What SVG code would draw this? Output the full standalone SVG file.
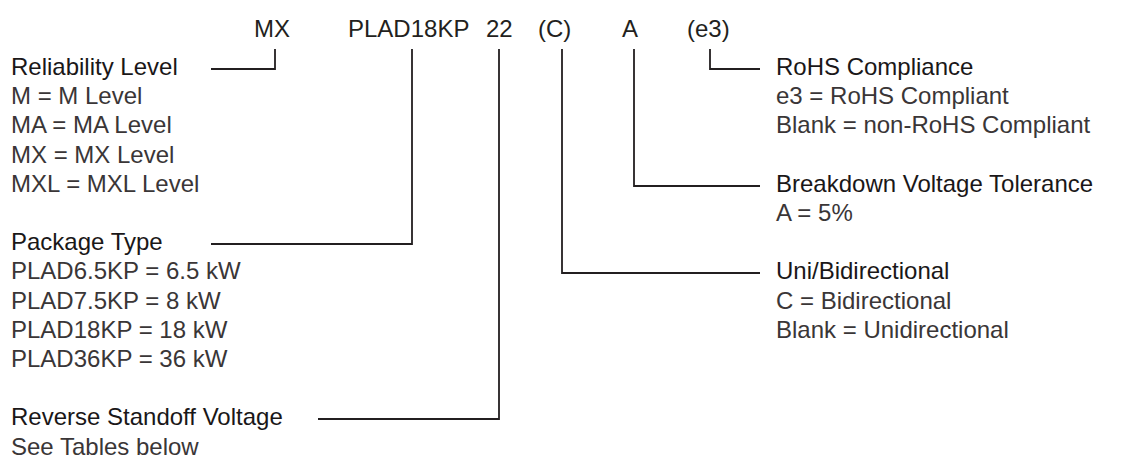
<svg xmlns="http://www.w3.org/2000/svg" width="1122" height="458" viewBox="0 0 1122 458">
<style>
text{font-family:"Liberation Sans",Arial,Helvetica,sans-serif;font-size:24px;fill:#231f20}
.h{fill:#1a1718}
.i{fill:#3a3637}
.c{fill:none;stroke:#231f20;stroke-width:1.8}
</style>
<rect width="1122" height="458" fill="#fff"/>
<g id="code">
<text x="254" y="37">MX</text>
<text x="348" y="37">PLAD18KP</text>
<text x="486" y="37">22</text>
<text x="538" y="37">(C)</text>
<text x="622" y="37">A</text>
<text x="687" y="37">(e3)</text>
</g>
<g id="reliability">
<text class="h" x="11" y="75">Reliability Level</text>
<text class="i" x="11" y="104">M = M Level</text>
<text class="i" x="11" y="133">MA = MA Level</text>
<text class="i" x="11" y="163">MX = MX Level</text>
<text class="i" x="11" y="192">MXL = MXL Level</text>
</g>
<g id="package">
<text class="h" x="11" y="250">Package Type</text>
<text class="i" x="11" y="279">PLAD6.5KP = 6.5 kW</text>
<text class="i" x="11" y="309">PLAD7.5KP = 8 kW</text>
<text class="i" x="11" y="338">PLAD18KP = 18 kW</text>
<text class="i" x="11" y="367">PLAD36KP = 36 kW</text>
</g>
<g id="reverse">
<text class="h" x="11" y="425">Reverse Standoff Voltage</text>
<text class="i" x="11" y="455">See Tables below</text>
</g>
<g id="rohs">
<text class="h" x="776" y="75">RoHS Compliance</text>
<text class="i" x="776" y="104">e3 = RoHS Compliant</text>
<text class="i" x="776" y="133">Blank = non-RoHS Compliant</text>
</g>
<g id="tolerance">
<text class="h" x="776" y="192">Breakdown Voltage Tolerance</text>
<text class="i" x="776" y="221">A = 5%</text>
</g>
<g id="direction">
<text class="h" x="776" y="279">Uni/Bidirectional</text>
<text class="i" x="776" y="309">C = Bidirectional</text>
<text class="i" x="776" y="338">Blank = Unidirectional</text>
</g>
<g id="connectors">
<polyline class="c" points="211,69 275,69 275,49"/>
<polyline class="c" points="211,244 412,244 412,49"/>
<polyline class="c" points="318,419 499,419 499,49"/>
<polyline class="c" points="760,273 562,273 562,49"/>
<polyline class="c" points="760,186 634,186 634,49"/>
<polyline class="c" points="760,69 710,69 710,49"/>
</g>
</svg>
